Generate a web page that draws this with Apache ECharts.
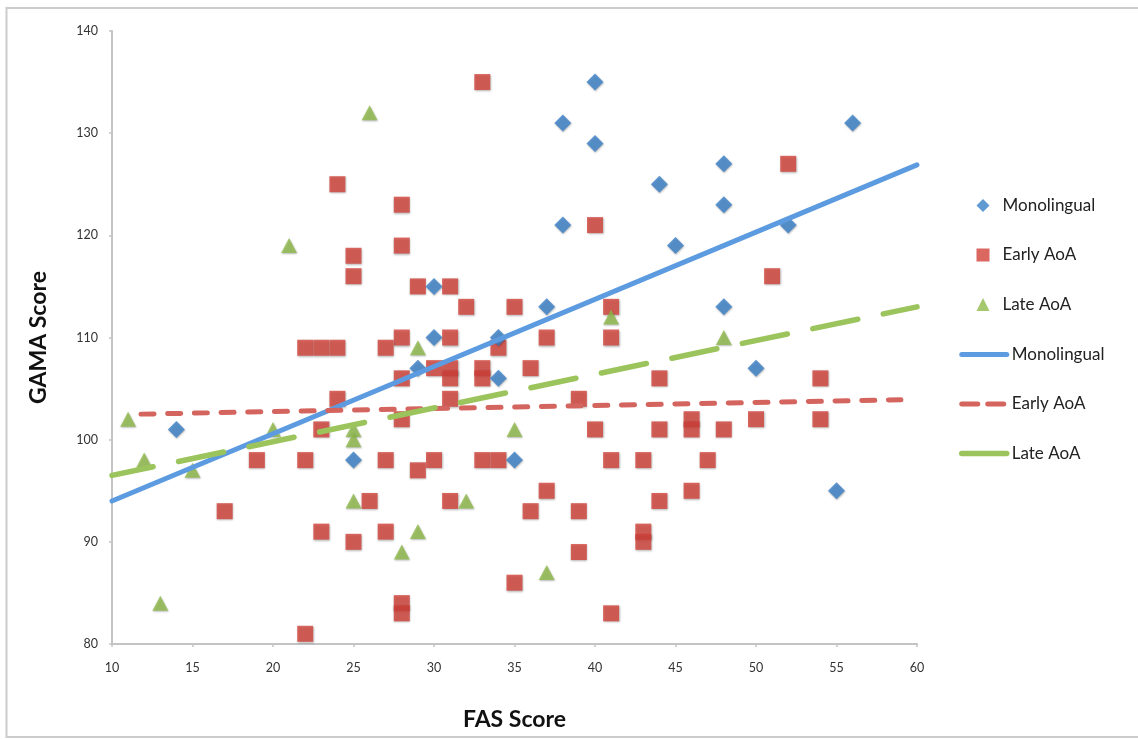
<!DOCTYPE html>
<html>
<head>
<meta charset="utf-8">
<script src="https://cdn.jsdelivr.net/npm/echarts@6/dist/echarts.min.js"></script>
<style>
html,body{margin:0;padding:0;background:#fff;}
#chart{width:1138px;height:739px;}
</style>
</head>
<body>
<div id="chart"></div>
<script>
// ---- Data ----
const seriesNames = ['Monolingual', 'Early AoA', 'Late AoA'];
const xTicks = [10, 15, 20, 25, 30, 35, 40, 45, 50, 55, 60];
const yTicks = [80, 90, 100, 110, 120, 130, 140];

const monolingual = [
  [14,101],[25,98],[29,107],[30,115],[30,110],[34,110],[34,106],[35,98],[37,113],
  [38,131],[38,121],[40,135],[40,129],[44,125],[45,119],[48,127],[48,123],[48,113],
  [50,107],[52,121],[55,95],[56,131]
];
const earlyAoA = [
  [33,135],[24,125],[28,123],[28,119],[25,118],[25,116],[29,115],[31,115],[32,113],[35,113],
  [28,110],[31,110],[22,109],[23,109],[24,109],[27,109],[34,109],[28,106],[30,107],
  [31,107],[31,106],[33,107],[33,106],[24,104],[31,104],[28,102],[23,101],[19,98],[22,98],
  [27,98],[29,97],[30,98],[33,98],[34,98],[17,93],[26,94],[31,94],[23,91],[25,90],[27,91],
  [35,86],[28,84],[28,83],[22,81],
  [37,110],[40,121],[41,113],[41,110],[52,127],[51,116],[36,107],[44,106],[54,106],
  [39,104],[40,101],[44,101],[46,102],[46,101],[48,101],[50,102],[54,102],[41,98],[43,98],
  [47,98],[37,95],[36,93],[39,93],[44,94],[46,95],[43,91],[43,90],[39,89],[41,83]
];
const lateAoA = [
  [26,132],[21,119],[11,102],[12,98],[15,97],[20,101],[13,84],[25,101],[25,100],[25,94],
  [29,109],[28,89],[29,91],[32,94],[35,101],[37,87],[41,112],[48,110]
];
// Trend line end points
const monoTrend = [[10,94.0],[60,126.9]];
const earlyTrend = [[11.8,102.5],[59,103.9]];
const lateTrend = [[10,96.5],[60,113.0]];

const FONT = 'Lato';
const chart = echarts.init(document.getElementById('chart'), null, {renderer:'canvas'});
const shadow = {shadowBlur:2, shadowColor:'rgba(0,0,0,0.35)', shadowOffsetX:0.5, shadowOffsetY:1};

const C_MONO = '#3a7fc8', C_EARLY = '#d2413a', C_LATE = '#8fba4a';
const T_MONO = '#5d9be0', T_EARLY = '#d4645e', T_LATE = '#9cc45c';
const DASH_EARLY = [13,13.7], DASH_LATE = [46,26];

const option = {
  backgroundColor:'#ffffff',
  animation:false,
  graphic:[{
    type:'rect', silent:true,
    shape:{x:6.5, y:8, width:1140, height:729},
    style:{fill:'none', stroke:'#cccccc', lineWidth:2}
  }],
  grid:{left:112, right:221, top:31, bottom:95},
  xAxis:{
    type:'value', min:10, max:60, interval:5,
    name:'FAS Score', nameLocation:'middle', nameGap:64,
    nameTextStyle:{fontFamily:FONT, fontWeight:'bold', fontSize:23, color:'#111'},
    axisLine:{show:true, lineStyle:{color:'#c4c4c4', width:2}},
    axisTick:{show:true, length:3, lineStyle:{color:'#c4c4c4', width:1.5}},
    axisLabel:{fontFamily:FONT, fontSize:12.5, color:'#333', margin:17,
      formatter:v => xTicks.indexOf(v) >= 0 ? String(v) : ''},
    splitLine:{show:false}
  },
  yAxis:{
    type:'value', min:80, max:140, interval:10,
    name:'GAMA Score', nameLocation:'middle', nameGap:62,
    nameTextStyle:{fontFamily:FONT, fontWeight:'bold', fontSize:23, color:'#111'},
    axisLine:{show:true, lineStyle:{color:'#c4c4c4', width:2}},
    axisTick:{show:true, length:3, lineStyle:{color:'#c4c4c4', width:1.5}},
    axisLabel:{fontFamily:FONT, fontSize:12.5, color:'#333', margin:14,
      formatter:v => yTicks.indexOf(v) >= 0 ? String(v) : ''},
    splitLine:{show:false}
  },
  legend:[{
    orient:'vertical', left:971.5, top:192, itemWidth:13, itemHeight:13, itemGap:32.5,
    textStyle:{fontFamily:FONT, fontSize:17, color:'#222', padding:[0,0,0,8]},
    data:[
      {name:seriesNames[0], icon:'diamond'},
      {name:seriesNames[1], icon:'rect'},
      {name:seriesNames[2], icon:'triangle'}
    ],
    selectedMode:false
  },{
    orient:'vertical', left:954, top:341, itemWidth:45, itemHeight:14, itemGap:32.5,
    textStyle:{fontFamily:FONT, fontSize:17, color:'#222'},
    formatter:n => n.trim(),
    data:[
      {name:seriesNames[0]+' ', itemStyle:{opacity:0}, lineStyle:{width:5, cap:'round', color:T_MONO}},
      {name:seriesNames[1]+' ', itemStyle:{opacity:0}, lineStyle:{width:5, cap:'round', type:[16,10], color:T_EARLY}},
      {name:seriesNames[2]+' ', itemStyle:{opacity:0}, lineStyle:{width:5.5, cap:'round', type:'solid', color:T_LATE}}
    ],
    selectedMode:false
  }],
  series:[
    {name:seriesNames[0], type:'scatter', data:monolingual, symbol:'diamond', symbolSize:17,
      itemStyle:Object.assign({color:C_MONO}, shadow), z:5},
    {name:seriesNames[1], type:'scatter', data:earlyAoA, symbol:'rect', symbolSize:16,
      itemStyle:Object.assign({color:C_EARLY}, shadow), z:4},
    {name:seriesNames[2], type:'scatter', data:lateAoA, symbol:'triangle', symbolSize:[16,15],
      itemStyle:Object.assign({color:C_LATE}, shadow), z:4},
    {name:seriesNames[0]+' ', type:'line', data:monoTrend, symbol:'none', z:6,
      lineStyle:{color:T_MONO, width:5, cap:'round'}, itemStyle:{color:T_MONO}},
    {name:seriesNames[1]+' ', type:'line', data:earlyTrend, symbol:'none', z:6,
      lineStyle:{color:T_EARLY, width:5, type:DASH_EARLY, cap:'round'}, itemStyle:{color:T_EARLY}},
    {name:seriesNames[2]+' ', type:'line', data:lateTrend, symbol:'none', z:6,
      lineStyle:{color:T_LATE, width:5.5, type:DASH_LATE, cap:'round', dashOffset:4}, itemStyle:{color:T_LATE}}
  ]
};
chart.setOption(option);
</script>
</body>
</html>
